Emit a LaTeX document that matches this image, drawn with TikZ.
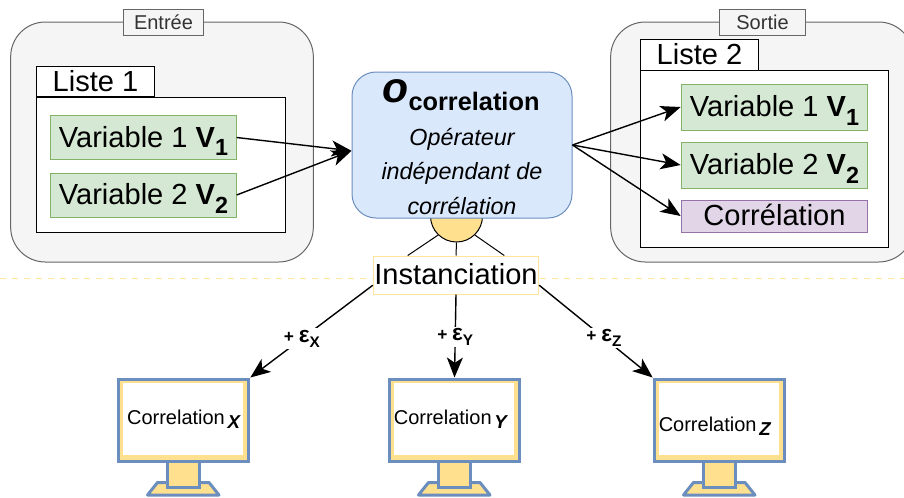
\documentclass[tikz,border=0pt]{standalone}
\usepackage{fontspec}
\setmainfont{Liberation Sans}
\usetikzlibrary{arrows.meta}
\definecolor{graybg}{HTML}{F5F5F5}
\definecolor{grayline}{HTML}{666666}
\definecolor{graytext}{HTML}{333333}
\definecolor{greenbg}{HTML}{D5E8D4}
\definecolor{greenline}{HTML}{82B366}
\definecolor{bluebg}{HTML}{DAE8FC}
\definecolor{blueline}{HTML}{6C8EBF}
\definecolor{purplebg}{HTML}{E1D5E7}
\definecolor{purpleline}{HTML}{9673A6}
\definecolor{yellowbg}{HTML}{FFE08F}
\definecolor{yellowline}{HTML}{FFE599}
\newcommand{\subv}[1]{\raisebox{-.3em}{\fontsize{17.5}{17.5}\selectfont\textbf{#1}}}
\newcommand{\subm}[1]{\kern2pt\raisebox{-.22em}{\fontsize{14}{14}\selectfont\textbf{\textit{#1}}}}
\newcommand{\sube}[1]{\raisebox{-.25em}{\fontsize{11.5}{11.5}\selectfont\textbf{#1}}}
\newcommand{\eps}{{\fontsize{17}{17}\selectfont ε}}
\tikzset{
    big/.style={font=\fontsize{21.8}{25}\selectfont, text height=14.5pt, text depth=0pt},
    holder/.style={draw=grayline, fill=graybg, rounded corners=26pt, line width=.75pt, minimum width=227pt, minimum height=180pt, inner sep=0pt},
    tagbox/.style={draw=grayline, fill=graybg, text=graytext, line width=.75pt, minimum height=19.5pt, inner sep=0pt, font=\fontsize{15}{18}\selectfont},
    listbox/.style={draw, fill=white, line width=.75pt, inner sep=0pt},
    listtab/.style={listbox, big, minimum width=89pt, minimum height=23pt},
    var/.style={draw=greenline, fill=greenbg, line width=.75pt, minimum width=139pt, minimum height=33pt, inner sep=0pt, big},
    halo/.style={circle, draw, fill=yellowbg, line width=.75pt, minimum size=39pt, inner sep=0pt},
    screen/.style={draw=blueline, fill=yellowbg, line width=2.25pt, minimum width=98pt, minimum height=61.5pt, inner sep=0pt},
    screenin/.style={fill=white, minimum width=90pt, minimum height=54pt, inner sep=0pt},
    neck/.style={draw=blueline, fill=yellowbg, line width=2.25pt, minimum width=23.5pt, minimum height=19pt, inner sep=0pt},
    foot/.style={draw=blueline, fill=yellowbg, line width=2.25pt, line join=round},
    mtext/.style={font=\fontsize{15}{18}\selectfont, inner sep=0pt},
    noise/.style={fill=white, inner sep=1.5pt, font=\fontsize{13}{15}\selectfont\bfseries},
    link/.style={line width=1.05pt, -{Stealth[length=15pt, width=12pt, inset=4pt]}},
}
\begin{document}
\begin{tikzpicture}[x=0.75pt, y=-0.75pt]
    \useasboundingbox (0,0) rectangle (904,497);

    \draw[yellowline, line width=.75pt, dash pattern=on 4.5pt off 4.5pt] (0,278) -- (904,278);

    % entree
    \node[holder] (entree) at (162,142) {};
    \node[tagbox, minimum width=60.5pt] (tagin) at (163.5,22) {Entrée};
    \node[listbox, minimum width=186.75pt, minimum height=101.25pt] (list1) at (160.5,164.5) {};
    \node[listtab] (tab1) at (95.5,81.5) {Liste 1};
    \node[var] (in1) at (143.5,137.5) {Variable 1 \textbf{V}\subv{1}};
    \node[var] (in2) at (143.5,195) {Variable 2 \textbf{V}\subv{2}};

    % sortie
    \node[holder] (sortie) at (762,142) {};
    \node[tagbox, minimum width=64pt] (tagout) at (762.5,22) {Sortie};
    \node[listbox, minimum width=186pt, minimum height=132.75pt] (list2) at (764,158.5) {};
    \node[listtab] (tab2) at (699.5,55) {Liste 2};
    \node[var, minimum width=140pt, minimum height=34.5pt] (out1) at (774.5,107) {Variable 1 \textbf{V}\subv{1}};
    \node[var, minimum width=140pt, minimum height=34.5pt] (out2) at (774.5,165) {Variable 2 \textbf{V}\subv{2}};
    \node[draw=purpleline, fill=purplebg, line width=.75pt, minimum width=140pt, minimum height=24pt, inner sep=0pt, big] (corr) at (774.5,216) {Corrélation};

    % operateur
    \node[halo] (joint) at (456.5,216) {};
    \node[draw=blueline, fill=bluebg, rounded corners=18pt, line width=.75pt, minimum width=165pt, minimum height=109.5pt, inner sep=0pt] (oper) at (462,145) {};
    \node[inner sep=0pt, align=center, anchor=base] (opertitle) at (461,102) {\fontsize{32}{32}\selectfont\textbf{\textit{o}}\raisebox{-.2em}{\fontsize{19}{19}\selectfont\textbf{correlation}}};
    \node[inner sep=0pt, align=center, anchor=north, font=\fontsize{17.5}{25.9}\selectfont\itshape] (opertext) at (462,128) {Opérateur\\indépendant de\\corrélation};
    \node[draw=yellowline, fill=white, line width=.75pt, minimum width=124pt, minimum height=28.5pt, inner sep=0pt, big] (inst) at (456,275) {Instanciation};

    \draw[line width=.75pt] (joint.226) -- (inst.158);
    \draw[line width=.75pt] (joint.south) -- (inst.north);
    \draw[line width=.75pt] (joint.-46) -- (inst.22);

    % ecrans
    \node[screen] (scrx) at (183.5,420) {};
    \node[screenin] (inx) at (182.5,418.5) {};
    \node[mtext] (labx) at (184,419) {Correlation\subm{X}};
    \node[neck] (neckx) at (183.5,474.5) {};
    \draw[foot] (147.5,495) -- (157.5,482.5) -- (209,482.5) -- (219,495) -- cycle;
    \node[neck] at (neckx) {};

    \node[screen] (scry) at (454.5,420) {};
    \node[screenin] (iny) at (453.5,418.5) {};
    \node[mtext] (laby) at (451,419) {Correlation\subm{Y}};
    \node[neck] (necky) at (454.5,474.5) {};
    \draw[foot] (418.5,495) -- (428.5,482.5) -- (480,482.5) -- (490,495) -- cycle;
    \node[neck] at (necky) {};

    \node[screen] (scrz) at (719.5,420) {};
    \node[screenin] (inz) at (718.5,418.5) {};
    \node[mtext] (labz) at (715,426.5) {Correlation\subm{Z}};
    \node[neck] (neckz) at (719.5,474.5) {};
    \draw[foot] (683.5,495) -- (693.5,482.5) -- (745,482.5) -- (755,495) -- cycle;
    \node[neck] at (neckz) {};

    % fleches
    \draw[link] (in1.east) -- (oper.183);
    \draw[link] (in2.east) -- (oper.183);
    \draw[link] (oper.east) -- (out1.west);
    \draw[link] (oper.east) -- (out2.west);
    \draw[link] (oper.east) -- (corr.west);
    \draw[link] (inst.187) -- node[noise, pos=.58] {+ \eps\sube{X}} (scrx.north east);
    \draw[link] (inst.south) -- node[noise, pos=.51] {+ \eps\sube{Y}} (scry.north);
    \draw[link] (inst.-7) -- node[noise, pos=.57] {+ \eps\sube{Z}} (scrz.north west);
\end{tikzpicture}
\end{document}
